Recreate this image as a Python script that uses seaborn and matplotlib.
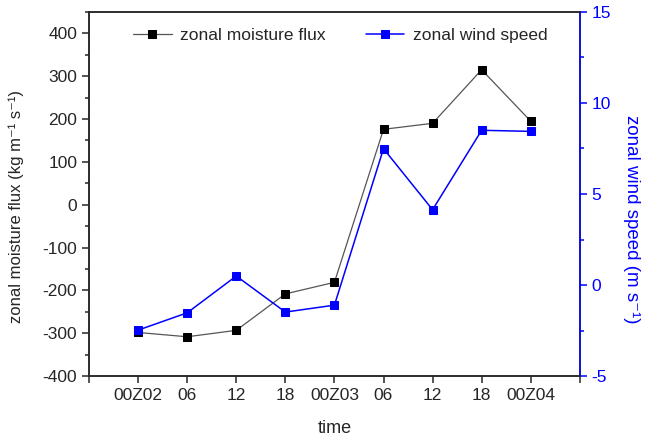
import matplotlib
matplotlib.use("Agg")
from matplotlib import pyplot as plt
from matplotlib.ticker import MultipleLocator
import pandas as pd
import seaborn as sns

# data
time_labels = ["00Z02", "06", "12", "18", "00Z03", "06", "12", "18", "00Z04"]
moisture_flux = [-298, -308, -293, -208, -181, 176, 190, 315, 195]
wind_speed = [-2.47, -1.52, 0.5, -1.48, -1.1, 7.49, 4.14, 8.5, 8.44]

df = pd.DataFrame({"idx": range(len(time_labels)),
                   "flux": moisture_flux,
                   "wind": wind_speed})

sns.set_style("ticks")
plt.rcParams["font.family"] = ["Liberation Sans", "DejaVu Sans"]
plt.rcParams["axes.unicode_minus"] = False
plt.rcParams["xtick.direction"] = "out"
plt.rcParams["ytick.direction"] = "out"

fig = plt.figure(figsize=(6.5, 4.4), dpi=100)
ax = fig.add_axes([0.137, 0.145, 0.755, 0.828])
ax2 = ax.twinx()

sns.lineplot(data=df, x="idx", y="flux", ax=ax, color="#555555", linewidth=0.9,
             marker="s", markersize=6, markerfacecolor="black",
             markeredgecolor="black", label="zonal moisture flux", legend=False)
sns.lineplot(data=df, x="idx", y="wind", ax=ax2, color="blue", linewidth=1.1,
             marker="s", markersize=6, markerfacecolor="blue",
             markeredgecolor="blue", label="zonal wind speed", legend=False)

ax.set_xlim(-1, 9)
ax.set_xticks(range(-1, 10))
ax.set_xticklabels([""] + time_labels + [""])
ax.set_ylim(-400, 450)
ax.yaxis.set_major_locator(MultipleLocator(100))
ax.yaxis.set_minor_locator(MultipleLocator(50))
ax.set_yticks(range(-400, 401, 100))
ax2.set_ylim(-5, 15)
ax2.yaxis.set_major_locator(MultipleLocator(5))
ax2.yaxis.set_minor_locator(MultipleLocator(2.5))

ax.tick_params(axis="both", which="major", labelsize=12.5, length=5, width=1.1)
ax.tick_params(axis="y", which="minor", length=3, width=1.1)
ax2.tick_params(axis="y", which="major", labelsize=12.5, length=5, width=1.1,
                colors="blue")
ax2.tick_params(axis="y", which="minor", length=3, width=1.1, colors="blue")

for sp in ax.spines.values():
    sp.set_linewidth(1.1)
for sp in ax2.spines.values():
    sp.set_linewidth(1.1)
ax2.spines["right"].set_color("blue")

ax.set_xlabel("time", fontsize=13, labelpad=12)
ax.set_ylabel("zonal moisture flux (kg m\u207b\u00b9 s\u207b\u00b9)", fontsize=12,
              va="center")
ax.yaxis.set_label_coords(-0.149, 0.467)
ax2.set_ylabel("zonal wind speed (m s\u207b\u00b9)", fontsize=13.5,
               color="blue", rotation=270, va="center")
ax2.yaxis.set_label_coords(1.106, 0.43)

h1, l1 = ax.get_legend_handles_labels()
h2, l2 = ax2.get_legend_handles_labels()
ax2.legend(h1 + h2, l1 + l2, loc="upper center", ncol=2, frameon=False,
           fontsize=12.5, columnspacing=2.3, handlelength=2.2,
           handletextpad=0.5, bbox_to_anchor=(0.512, 1.0))

fig.savefig("out.png", dpi=100)
